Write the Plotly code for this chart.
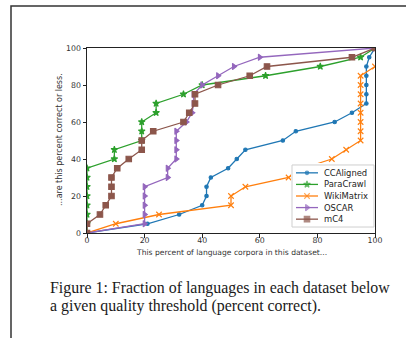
import plotly.graph_objects as go

# Cumulative share of languages (y) by percent of corpora (x) for each dataset
ccaligned_x = [0, 21, 32, 40, 41.5, 41.5, 43, 49, 52, 55, 68, 72.5, 86, 92, 97, 97, 97, 97, 97, 98, 100]
ccaligned_y = [0, 5, 10, 15, 20, 25, 30, 35, 40, 45, 50, 55, 60, 65, 70, 75, 80, 85, 90, 95, 100]

paracrawl_x = [0, 0, 0, 0, 0, 0, 0, 0, 9.5, 9.5, 19, 19, 19, 24, 24, 33.5, 40, 62, 81, 95, 100]
paracrawl_y = [0, 5, 10, 15, 20, 25, 30, 35, 40, 45, 50, 55, 60, 65, 70, 75, 80, 85, 90, 95, 100]

wikimatrix_x = [0, 10, 25, 50, 50, 55, 70, 75, 85, 90, 95, 95, 95, 95, 95, 95, 95, 95, 100]
wikimatrix_y = [0, 5, 10, 15, 20, 25, 30, 35, 40, 45, 50, 55, 60, 65, 70, 75, 80, 85, 90]

oscar_x = [0, 20, 20, 20, 20, 20, 28, 28, 31, 31, 31, 31, 34.5, 36.5, 37, 37, 40, 45.5, 51, 60, 100]
oscar_y = [0, 5, 10, 15, 20, 25, 30, 35, 40, 45, 50, 55, 60, 65, 70, 75, 80, 85, 90, 95, 100]

mc4_x = [0, 0, 4.5, 6.5, 8.5, 8.5, 8.5, 10.5, 14.5, 19, 19, 23, 33.5, 35.5, 37.5, 37.5, 45.5, 56.5, 62.5, 92, 100]
mc4_y = [0, 5, 10, 15, 20, 25, 30, 35, 40, 45, 50, 55, 60, 65, 70, 75, 80, 85, 90, 95, 100]

series_names = ["CCAligned", "ParaCrawl", "WikiMatrix", "OSCAR", "mC4"]
series_x = [ccaligned_x, paracrawl_x, wikimatrix_x, oscar_x, mc4_x]
series_y = [ccaligned_y, paracrawl_y, wikimatrix_y, oscar_y, mc4_y]

tick_vals = [0, 20, 40, 60, 80, 100]

colors = ["#1f77b4", "#2ca02c", "#ff7f0e", "#9467bd", "#8c564b"]
symbols = ["circle", "star", "x-thin-open", "triangle-right", "square"]
sizes = [3.5, 5, 5.5, 5.5, 5.5]

x_title = "This percent of language corpora in this dataset..."
y_title = "...are this percent correct or less."
caption_lines = [
    "Figure 1: Fraction of languages in each dataset below",
    "a given quality threshold (percent correct).",
]

W, H = 406, 338
L, R, T, B = 87, 31, 48, 105
plot_w = W - L - R
plot_h = H - T - B


def px_x(p):
    return (p - L) / plot_w


def px_y(p):
    return (H - B - p) / plot_h


fig = go.Figure()

for name, xs, ys, c, s, sz in zip(series_names, series_x, series_y, colors, symbols, sizes):
    fig.add_trace(go.Scatter(
        x=xs, y=ys, mode="lines+markers", name=name,
        line=dict(color=c, width=1.3),
        marker=dict(symbol=s, size=sz, color=c, line=dict(color=c, width=1.1)),
        showlegend=False, xaxis="x", yaxis="y",
    ))

# Legend drawn in its own small overlay subplot (rows indexed by series)
leg_x0, leg_x1 = 0, 82
fig.add_trace(go.Scatter(
    x=[leg_x0, leg_x1, leg_x1, leg_x0, leg_x0],
    y=[-0.68, -0.68, 4.68, 4.68, -0.68],
    mode="lines", fill="toself", fillcolor="rgba(255,255,255,0.85)",
    line=dict(color="#cfcfcf", width=1), showlegend=False,
    hoverinfo="skip", xaxis="x2", yaxis="y2",
))
for i, (name, c, s, sz) in enumerate(zip(series_names, colors, symbols, sizes)):
    fig.add_trace(go.Scatter(
        x=[4, 15, 26], y=[i, i, i], mode="lines+markers",
        line=dict(color=c, width=1.3),
        marker=dict(symbol=s, size=[0, sz, 0], color=c, line=dict(color=c, width=1.1)),
        showlegend=False, hoverinfo="skip", xaxis="x2", yaxis="y2",
    ))

annotations = []
for i, name in enumerate(series_names):
    annotations.append(dict(
        x=30, y=i, xref="x2", yref="y2", text=name, showarrow=False,
        xanchor="left", yanchor="middle",
        font=dict(family="DejaVu Sans", size=8.4, color="#222"),
    ))

annotations.append(dict(
    x=0.5, y=px_y(252), xref="paper", yref="paper", text=x_title,
    showarrow=False, xanchor="center", yanchor="middle",
    font=dict(family="DejaVu Sans", size=7.6, color="#333"),
))
annotations.append(dict(
    x=px_x(59), y=px_y(140), xref="paper", yref="paper", text=y_title,
    showarrow=False, xanchor="center", yanchor="middle", textangle=-90,
    font=dict(family="DejaVu Sans", size=8, color="#333"),
))
for line, yc in zip(caption_lines, [287.5, 306]):
    annotations.append(dict(
        x=px_x(47.5), y=px_y(yc), xref="paper", yref="paper", text=line,
        showarrow=False, xanchor="left", yanchor="middle",
        font=dict(family="Liberation Serif", size=15.9, color="#1a1a1a"),
    ))

axis_common = dict(
    range=[0, 100], tickvals=tick_vals, ticks="outside", ticklen=3.5,
    tickwidth=0.9, tickcolor="#222", showline=True, linecolor="#222",
    linewidth=1, mirror=True, showgrid=False, zeroline=False,
    tickfont=dict(family="DejaVu Sans", size=7.8, color="#333"),
)

fig.update_layout(
    width=W, height=H,
    margin=dict(l=L, r=R, t=T, b=B),
    paper_bgcolor="white", plot_bgcolor="white",
    xaxis=dict(**axis_common, ticklabelstandoff=-4),
    yaxis=dict(**axis_common),
    xaxis2=dict(domain=[px_x(291), px_x(375)], range=[-1, 83], visible=False,
                fixedrange=True, anchor="y2"),
    yaxis2=dict(domain=[px_y(229), px_y(163)], range=[4.85, -0.85], visible=False,
                fixedrange=True, anchor="x2"),
    annotations=annotations,
    shapes=[dict(
        type="rect", xref="paper", yref="paper",
        x0=px_x(11), x1=px_x(420), y0=px_y(350), y1=px_y(6),
        line=dict(color="#333", width=1.5), fillcolor="rgba(0,0,0,0)",
    )],
)

fig.write_html("out.html")
